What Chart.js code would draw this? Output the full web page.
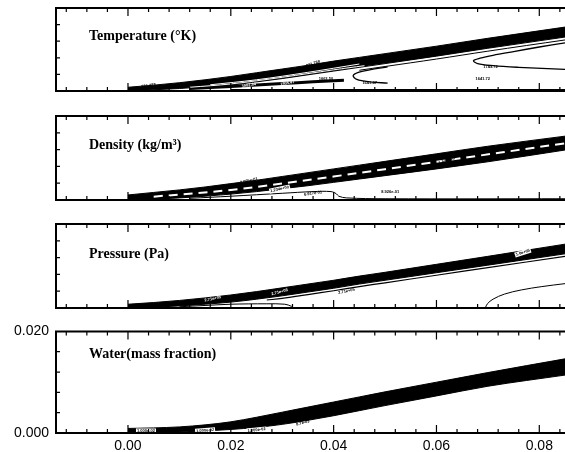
<!DOCTYPE html>
<html>
<head>
<meta charset="utf-8">
<script src="https://cdn.jsdelivr.net/npm/chart.js@4"></script>
<style>
body{margin:0;background:#fff;width:565px;height:452px;overflow:hidden;position:relative}
canvas{position:absolute;left:0}
</style>
</head>
<body>
<canvas id="c1" width="565" height="106" style="top:6px"></canvas>
<canvas id="c2" width="565" height="107" style="top:114px"></canvas>
<canvas id="c3" width="565" height="107" style="top:222px"></canvas>
<canvas id="c4" width="565" height="136" style="top:316px"></canvas>
<script>
// axis data
var xMin = -0.014, xMax = 0.085;
var xLabelTicks = [0, 0.02, 0.04, 0.06, 0.08];
var xMinorTicks = [-0.012, -0.008, -0.004, 0.004, 0.008, 0.012, 0.016, 0.024, 0.028, 0.032, 0.036,
                   0.044, 0.048, 0.052, 0.056, 0.064, 0.068, 0.072, 0.076, 0.084];
var yLabelTicks = [0, 0.02];
var yMinorTicks = [0.004, 0.008, 0.012, 0.016];
var panelTitles = ['Temperature (°K)', 'Density (kg/m³)', 'Pressure (Pa)', 'Water(mass fraction)'];

// shock band (upper / lower edge) sampled at bandX
var bandX = [0, 0.005, 0.01, 0.015, 0.02, 0.025, 0.03, 0.035, 0.04, 0.045, 0.05, 0.06, 0.07, 0.085];
var tempUpper  = [0.0009, 0.0014, 0.0020, 0.0027, 0.0035, 0.0044, 0.0053, 0.0062, 0.0072, 0.0081, 0.0090, 0.0108, 0.0127, 0.0154];
var tempLower  = [0, 0.0003, 0.0006, 0.0010, 0.0014, 0.0022, 0.0030, 0.0039, 0.0048, 0.0057, 0.0066, 0.0084, 0.0103, 0.0130];
var densUpper  = [0.0012, 0.0018, 0.0024, 0.0031, 0.0039, 0.0047, 0.0056, 0.0065, 0.0074, 0.0083, 0.0092, 0.0110, 0.0128, 0.0152];
var densLower  = [0, 0.0002, 0.0005, 0.0009, 0.0014, 0.0020, 0.0027, 0.0034, 0.0042, 0.0050, 0.0058, 0.0074, 0.0091, 0.0119];
var presUpper  = [0.0009, 0.0013, 0.0018, 0.0024, 0.0031, 0.0039, 0.0048, 0.0057, 0.0066, 0.0076, 0.0085, 0.0104, 0.0123, 0.0152];
var presLower  = [0, 0.0002, 0.0005, 0.0009, 0.0014, 0.0021, 0.0029, 0.0038, 0.0047, 0.0057, 0.0066, 0.0084, 0.0102, 0.0129];
var waterUpper = [0.0009, 0.0010, 0.0012, 0.0016, 0.0022, 0.0031, 0.0041, 0.0051, 0.0061, 0.0071, 0.0081, 0.0100, 0.0119, 0.0146];
var waterLower = [0, 0.0001, 0.0002, 0.0004, 0.0007, 0.0011, 0.0017, 0.0025, 0.0034, 0.0044, 0.0054, 0.0073, 0.0092, 0.0114];

// contour lines [x, y]
var tempWhite1 = [[0.012,0.0009],[0.02,0.0017],[0.03,0.0033],[0.04,0.0051],[0.046,0.0061]];
var tempWhite2 = [[0.016,0.0015],[0.025,0.0027],[0.035,0.0045],[0.045,0.0065]];
var tempStrip  = [[0.012,0.0006],[0.02,0.0011],[0.03,0.0018],[0.036,0.0022],[0.042,0.0026]];
var tempUnder  = [[0.045,0.0050],[0.05,0.0059],[0.06,0.0077],[0.07,0.0096],[0.085,0.0123]];
var tempLoopA  = [[0.0505,0.0058],[0.047,0.0051],[0.0448,0.0045],[0.0438,0.0037],[0.0445,0.0028],[0.047,0.0022],[0.0505,0.0019]];
var tempLoopB  = [[0.085,0.0116],[0.08,0.0106],[0.075,0.0095],[0.071,0.0086],[0.0685,0.0079],[0.0672,0.0073],[0.068,0.0066],[0.071,0.0061],[0.076,0.0057],[0.085,0.0052]];
var tempFloor  = [[0.02,0.0003],[0.085,0.0003]];
var densDash   = [[0.005,0.0008],[0.02,0.0024],[0.04,0.0056],[0.06,0.0091],[0.085,0.0135]];
var densUnder  = [[0.012,0.0004],[0.02,0.0009],[0.03,0.0016],[0.036,0.0020],[0.0395,0.0020],[0.0405,0.0015],[0.041,0.0009],[0.0425,0.0005],[0.05,0.0003],[0.085,0.0003]];
var presUnder  = [[0.027,0.0019],[0.03,0.0023],[0.035,0.0032],[0.04,0.0041],[0.045,0.0051],[0.05,0.0060],[0.06,0.0078],[0.07,0.0096],[0.085,0.0123]];
var presDome   = [[0.010,0.0003],[0.015,0.0006],[0.02,0.0009],[0.027,0.0010],[0.0305,0.0009],[0.0318,0.0004],[0.0322,0]];
var presRight  = [[0.0695,0],[0.0699,0.0010],[0.0710,0.0021],[0.0732,0.0033],[0.0765,0.0043],[0.0805,0.0051],[0.085,0.0058]];

// contour value labels [text, x, y, style, angle]
var tempLabels = [['981.788',0.004,0.0013,'plain',-8],['981.788',0.036,0.0066,'plain',-18],['1982.84',0.0235,0.0014,'white',-10],
                  ['1905.47',0.031,0.0019,'white',-10],['1663.50',0.0385,0.0030,'plain',0],['1641.47',0.047,0.0020,'plain',0],
                  ['1743.72',0.0705,0.0058,'plain',0],['1641.72',0.069,0.0030,'plain',0]];
var densLabels = [['2.095e-01',0.0235,0.0046,'plain',-12],['1.234e+00',0.0295,0.0026,'box',-12],['6.917e-01',0.036,0.0016,'plain',-8],
                  ['8.926e-01',0.051,0.0020,'plain',0],['1.54e+00',0.062,0.0094,'plain',-18]];
var presLabels = [['2.71e+05',0.0165,0.0022,'white',-12],['2.71e+05',0.0295,0.0038,'white',-15],['2.71e+05',0.0425,0.0040,'plain',-12],
                  ['1.0e+05',0.0768,0.0132,'box',-18]];
var waterLabels = [['1.000e-02',0.0035,0.0004,'box',0],['1.000e-02',0.015,0.0005,'box',-4],['1.000e-02',0.0235,0.0016,'plain',-8],
                   ['1.000e-02',0.025,0.0006,'box',-6],['8.7e-03',0.034,0.0020,'plain',-15]];

function pts(xs, ys) { return xs.map(function(x, i){ return {x: x, y: ys[i]}; }); }
function pairs(a) { return a.map(function(p){ return {x: p[0], y: p[1]}; }); }
function band(up, low) {
  return [
    {data: pts(bandX, up), borderColor: '#000', backgroundColor: '#000', borderWidth: 1, fill: '+1', order: 3, cubicInterpolationMode: 'monotone'},
    {data: pts(bandX, low), borderColor: '#000', borderWidth: 1, fill: false, order: 3, cubicInterpolationMode: 'monotone'}
  ];
}
function line(a, w) { return {data: pairs(a), borderColor: '#000', borderWidth: w || 1, fill: false, order: 2}; }
function whiteLine(a, dash, w) { return {data: pairs(a), borderColor: '#fff', borderWidth: w || 1, borderDash: dash || [], fill: false, order: 1}; }

var framePlugin = {
  id: 'frame',
  afterDatasetsDraw: function(chart, args, opts) {
    var ctx = chart.ctx, a = chart.chartArea, x = chart.scales.x, y = chart.scales.y;
    ctx.save();
    (opts.labels || []).forEach(function(l) {
      var px = x.getPixelForValue(l[1]), py = y.getPixelForValue(l[2]);
      ctx.save();
      ctx.translate(px, py);
      ctx.rotate((l[4] || 0) * Math.PI / 180);
      ctx.font = 'bold 4px "Liberation Sans"';
      ctx.textAlign = 'center'; ctx.textBaseline = 'middle';
      var w = ctx.measureText(l[0]).width;
      if (l[3] === 'box') { ctx.fillStyle = '#fff'; ctx.fillRect(-w/2 - 1, -2.5, w + 2, 5); ctx.fillStyle = '#000'; }
      else if (l[3] === 'white') { ctx.fillStyle = '#fff'; }
      else { ctx.fillStyle = '#000'; }
      ctx.fillText(l[0], 0, 0);
      ctx.restore();
    });
    ctx.strokeStyle = '#000';
    ctx.lineWidth = 2;
    ctx.beginPath();
    ctx.moveTo(a.right + 2, a.top); ctx.lineTo(a.left, a.top); ctx.lineTo(a.left, a.bottom); ctx.lineTo(a.right + 2, a.bottom);
    ctx.stroke();
    ctx.lineWidth = 1.2;
    ctx.beginPath();
    xLabelTicks.forEach(function(v) {
      var px = x.getPixelForValue(v);
      ctx.moveTo(px, a.top); ctx.lineTo(px, a.top + 8);
      ctx.moveTo(px, a.bottom); ctx.lineTo(px, a.bottom - 8);
    });
    xMinorTicks.forEach(function(v) {
      var px = x.getPixelForValue(v);
      ctx.moveTo(px, a.top); ctx.lineTo(px, a.top + 4);
      ctx.moveTo(px, a.bottom); ctx.lineTo(px, a.bottom - 4);
    });
    yMinorTicks.forEach(function(v) {
      var py = y.getPixelForValue(v);
      ctx.moveTo(a.left, py); ctx.lineTo(a.left + 4, py);
    });
    ctx.stroke();
    ctx.font = 'bold 14px "Liberation Serif"';
    ctx.fillStyle = '#000';
    ctx.textBaseline = 'middle';
    ctx.textAlign = 'left';
    ctx.fillText(opts.title, a.left + 33, a.top + opts.titleDy);
    ctx.restore();
  }
};

function makePanel(id, datasets, title, titleDy, labels, bottom) {
  var tickFont = {family: 'Liberation Sans', size: 14};
  return new Chart(document.getElementById(id), {
    type: 'line',
    data: {datasets: datasets},
    plugins: [framePlugin],
    options: {
      responsive: false,
      animation: false,
      events: [],
      layout: {padding: {top: bottom ? 15 : 2, bottom: bottom ? 0 : 2, left: 0, right: 0}},
      elements: {point: {radius: 0}, line: {tension: 0.35}},
      plugins: {
        legend: {display: false},
        tooltip: {enabled: false},
        frame: {title: title, titleDy: titleDy, labels: labels}
      },
      scales: {
        x: {
          type: 'linear', min: xMin, max: xMax, display: bottom,
          grid: {display: false, drawTicks: false}, border: {display: false},
          afterBuildTicks: function(s){ s.ticks = xLabelTicks.map(function(v){ return {value: v}; }); },
          afterFit: function(s){ s.height = 19; },
          ticks: {padding: 5, color: '#000', font: tickFont, maxRotation: 0, autoSkip: false,
                  callback: function(v){ return Number(v).toFixed(2); }}
        },
        y: {
          type: 'linear', min: 0, max: 0.02, display: true,
          grid: {display: false, drawTicks: false}, border: {display: false},
          afterBuildTicks: function(s){ s.ticks = yLabelTicks.map(function(v){ return {value: v}; }); },
          afterFit: function(s){ s.width = 56; },
          ticks: {display: bottom, padding: 7, color: '#000', font: tickFont,
                  callback: function(v){ return Number(v).toFixed(3); }}
        }
      }
    }
  });
}

makePanel('c1', band(tempUpper, tempLower).concat([
  whiteLine(tempWhite1), whiteLine(tempWhite2),
  line(tempStrip, 3), line(tempUnder), line(tempLoopA, 1.3), line(tempLoopB, 1.3), line(tempFloor, 1.5)
]), panelTitles[0], 28, tempLabels, false);

makePanel('c2', band(densUpper, densLower).concat([
  whiteLine(densDash, [9, 6], 2), line(densUnder)
]), panelTitles[1], 29, densLabels, false);

makePanel('c3', band(presUpper, presLower).concat([
  line(presUnder, 1.2), line(presDome), line(presRight)
]), panelTitles[2], 30, presLabels, false);

makePanel('c4', band(waterUpper, waterLower), panelTitles[3], 23, waterLabels, true);
</script>
</body>
</html>
